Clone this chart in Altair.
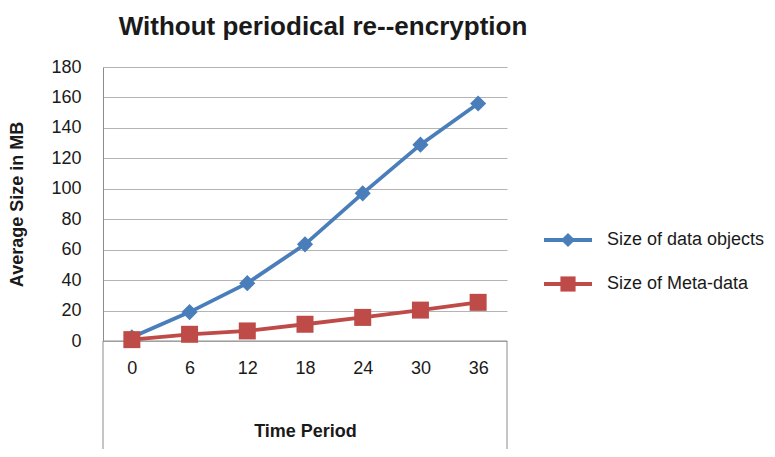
import altair as alt
import pandas as pd

periods = ["0", "6", "12", "18", "24", "30", "36"]
data_objects = [2.5, 19, 38, 63.5, 97, 129, 156]
meta_data = [0.9, 4.4, 6.6, 11, 15.5, 20.3, 25.4]
series_names = ["Size of data objects", "Size of Meta-data"]
series_colors = ["#4a7ebb", "#be4b48"]
series_shapes = ["diamond", "square"]
y_ticks = [0, 20, 40, 60, 80, 100, 120, 140, 160, 180]

FONT = "Liberation Sans"
TXT = "#1a1a1a"

rows = []
for p, v in zip(periods, data_objects):
    rows.append({"period": p, "value": v, "series": series_names[0]})
for p, v in zip(periods, meta_data):
    rows.append({"period": p, "value": v, "series": series_names[1]})
df = pd.DataFrame(rows)

W, H = 404, 274

axis_font = dict(labelFont=FONT, labelFontSize=18, labelColor=TXT,
                 titleFont=FONT, titleFontSize=18, titleFontWeight="bold", titleColor=TXT)

color = alt.Color("series:N", scale=alt.Scale(domain=series_names, range=series_colors), legend=None)
x = alt.X("period:O", sort=periods,
          axis=alt.Axis(title="Time Period", labelAngle=0, domain=False, ticks=False, grid=False,
                        labelPadding=18, titlePadding=45, **axis_font))
y = alt.Y("value:Q", scale=alt.Scale(domain=[0, 180], nice=False),
          axis=alt.Axis(title="Average Size in MB", values=y_ticks, domain=True, domainColor="#8c8c8c",
                        ticks=False, grid=True, gridColor="#b4b4b4", gridWidth=1,
                        labelPadding=22, titlePadding=24, **axis_font))

base = alt.Chart(df)
lines = base.mark_line(strokeWidth=3.8).encode(x=x, y=y, color=color, detail="series:N")
points = base.mark_point(filled=True, opacity=1).encode(
    x=x, y=y, color=color,
    shape=alt.Shape("series:N", scale=alt.Scale(domain=series_names, range=series_shapes), legend=None),
    size=alt.Size("series:N", scale=alt.Scale(domain=series_names, range=[260, 289]), legend=None),
)

# zero line / box top and box sides extending below the zero line
zero_line = alt.Chart(pd.DataFrame({"a": [0]})).mark_rule(color="#8c8c8c", strokeWidth=1).encode(
    x=alt.value(0), x2=alt.value(W), y=alt.value(H))
ext_left = alt.Chart(pd.DataFrame({"a": [0]})).mark_rule(color="#8c8c8c", strokeWidth=1).encode(
    x=alt.value(0), y=alt.value(H), y2=alt.value(392))
ext_right = alt.Chart(pd.DataFrame({"a": [0]})).mark_rule(color="#8c8c8c", strokeWidth=1).encode(
    x=alt.value(W), y=alt.value(H), y2=alt.value(392))

legend_layers = []
for i, name in enumerate(series_names):
    ly = 173 + 44 * i
    ldf = pd.DataFrame({"name": [name]})
    legend_layers.append(alt.Chart(ldf).mark_rule(color=series_colors[i], strokeWidth=3.8).encode(
        x=alt.value(441), x2=alt.value(489), y=alt.value(ly)))
    legend_layers.append(alt.Chart(ldf).mark_point(filled=True, opacity=1, color=series_colors[i],
                                                   shape=series_shapes[i],
                                                   size=[200, 230][i]).encode(
        x=alt.value(465), y=alt.value(ly)))
    legend_layers.append(alt.Chart(ldf).mark_text(align="left", baseline="middle", fontSize=18,
                                                  font=FONT, color=TXT).encode(
        x=alt.value(504), y=alt.value(ly), text="name:N"))

chart = alt.layer(zero_line, ext_left, ext_right, lines, points, *legend_layers).properties(
    width=W, height=H,
    title=alt.TitleParams("Without periodical re--encryption", font=FONT, fontSize=26, fontWeight="bold",
                          color=TXT, anchor="middle", frame="group", dx=18, offset=18),
    autosize=alt.AutoSizeParams(type="none"),
    padding={"left": 95, "top": 59, "right": 260, "bottom": 108},
    background="white",
).configure_view(stroke=None)

chart.save("out.html", embed_options={"renderer": "svg", "actions": False})
